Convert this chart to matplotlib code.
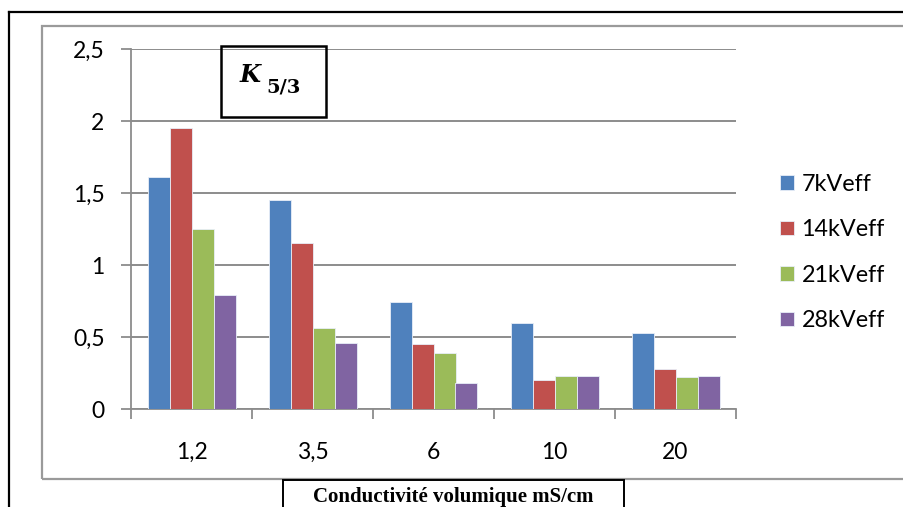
import matplotlib
matplotlib.use("Agg")
import matplotlib.pyplot as plt
import numpy as np
from matplotlib.patches import Rectangle
from matplotlib.lines import Line2D

# data
categories = ["1,2", "3,5", "6", "10", "20"]
series = ["7kVeff", "14kVeff", "21kVeff", "28kVeff"]
v7 = [1.61, 1.45, 0.74, 0.60, 0.53]
v14 = [1.95, 1.15, 0.45, 0.20, 0.28]
v21 = [1.25, 0.56, 0.39, 0.23, 0.22]
v28 = [0.79, 0.46, 0.18, 0.23, 0.23]
yticks = [0, 0.5, 1, 1.5, 2, 2.5]
ytick_labels = ["0", "0,5", "1", "1,5", "2", "2,5"]
colors = ["#4F81BD", "#C0504D", "#9BBB59", "#8064A2"]

W, H = 904, 507
fig = plt.figure(figsize=(W / 100, H / 100), dpi=100)
ax = fig.add_axes([131 / W, 1 - 409 / H, (736 - 131) / W, (409 - 49) / H])

grid_c = "#8c8c8c"
font = "Lato"

# bars: 4 per group, gap of 1.5 bar widths
bw = 1 / 5.5
x = np.arange(len(categories))
for i, (vals, name) in enumerate(zip([v7, v14, v21, v28], series)):
    offs = (i - 1.5) * bw
    ax.bar(x + offs, vals, width=bw, color=colors[i], edgecolor="#e8eef8",
           linewidth=0.6, label=name, zorder=3)

ax.set_xlim(-0.5, len(categories) - 0.5)
ax.set_ylim(0, 2.5)
ax.set_yticks(yticks)
ax.set_yticklabels(ytick_labels, fontfamily=font, fontsize=16.5)
ax.set_xticks(x)
ax.set_xticklabels(categories, fontfamily=font, fontsize=16.5)
ax.set_xticks(np.arange(len(categories) + 1) - 0.5, minor=True)
ax.tick_params(axis="x", which="major", length=0, pad=24)
ax.tick_params(axis="x", which="minor", length=7, width=1.3, color=grid_c)
ax.tick_params(axis="y", length=7, width=1.3, color=grid_c, pad=12)
ax.yaxis.grid(True, color=grid_c, linewidth=1.4, zorder=0)
for s in ["top", "right"]:
    ax.spines[s].set_visible(False)
for s in ["left", "bottom"]:
    ax.spines[s].set_color(grid_c)
    ax.spines[s].set_linewidth(1.3)

# legend
fig.legend(loc="center left", bbox_to_anchor=(780 / W, 1 - 252.5 / H),
           frameon=False, borderpad=0, borderaxespad=0,
           prop={"family": font, "size": 16.8},
           handlelength=0.6, handleheight=0.6, handletextpad=0.32,
           labelspacing=1.05)

# outer black frame and inner grey frame (both run off the image)
fig.add_artist(Line2D([9 / W, 9 / W], [0, 1 - 12 / H], color="black", lw=1.6))
fig.add_artist(Line2D([9 / W, 1], [1 - 12 / H, 1 - 12 / H], color="black", lw=1.6))
fig.add_artist(Rectangle((42 / W, 1 - 479 / H), 1, (479 - 26) / H,
                         fill=False, edgecolor="#9a9a9a", lw=1.6))

# title box K_{5/3}
fig.add_artist(Rectangle((221 / W, 1 - 117 / H), 105 / W, 71 / H,
                         fill=False, edgecolor="black", lw=1.8,
                         facecolor="white"))
fig.text(240 / W, 1 - 82 / H, "K", fontfamily="DejaVu Serif",
         fontweight="bold", fontstyle="italic", fontsize=17.5, va="baseline")
fig.text(266 / W, 1 - 92 / H, "5/3", fontfamily="DejaVu Serif",
         fontweight="bold", fontsize=14, va="baseline")

# x-label box
fig.add_artist(Rectangle((283 / W, -0.05), 341 / W, 0.05 + 1 - 480 / H,
                         fill=True, facecolor="white", edgecolor="black", lw=1.4))
fig.text(453 / W, 1 - 497 / H, "Conductivité volumique mS/cm",
         fontfamily="Liberation Serif", fontweight="bold", fontsize=15,
         ha="center", va="center")

fig.savefig("out.png", dpi=100)
